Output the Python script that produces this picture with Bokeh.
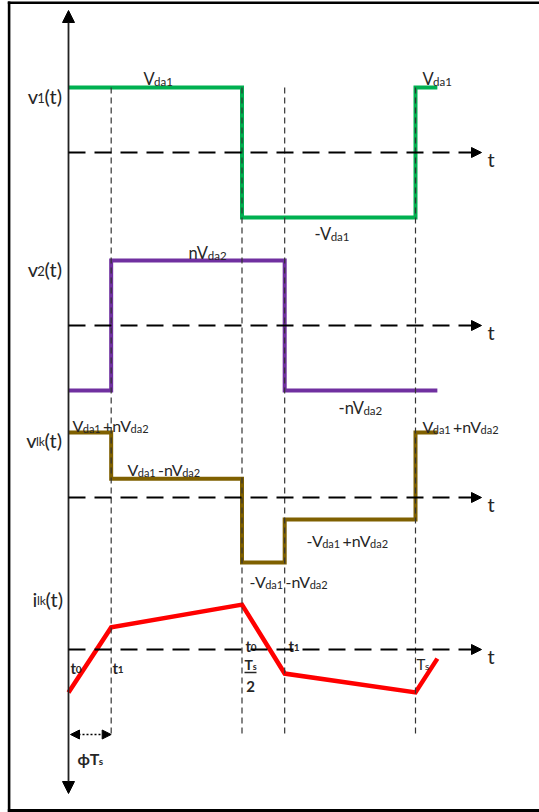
from bokeh.plotting import figure
from bokeh.models import Range1d, Arrow, NormalHead
from bokeh.core.properties import value
from bokeh.embed import file_html
from bokeh.resources import INLINE

# ---------------- data (time in units of Ts, levels in normalised amplitude) ----------------
phi = 0.123                      # phase shift (fraction of Ts)
t_end = 1.063                    # end of the drawn window (Ts)
v1_t = [0.0, 0.5, 1.0, t_end]
v1_v = [1.0, -1.0, 1.0, 1.0]
v2_t = [0.0, phi, 0.5 + phi, t_end]
v2_v = [-1.0, 1.0, -1.0, -1.0]
vlk_t = [0.0, phi, 0.5, 0.5 + phi, 1.0, t_end]
vlk_v = [1.0, 0.29, -1.0, -0.34, 1.0, 1.0]
ilk_t = [0.0, phi, 0.5, 0.5 + phi, 1.0, t_end]
ilk_v = [-0.66, 0.34, 0.69, -0.37, -0.66, -0.14]
switch_t = [phi, 0.5, 0.5 + phi, 1.0]

# label texts: (text, is_subscript)
lab_v1 = [("v", 0), ("1", 1), ("(t)", 0)]
lab_v2 = [("v", 0), ("2", 1), ("(t)", 0)]
lab_vlk = [("v", 0), ("lk", 1), ("(t)", 0)]
lab_ilk = [("i", 0), ("lk", 1), ("(t)", 0)]
lab_vda1 = [("V", 0), ("da1", 1)]
lab_mvda1 = [("-V", 0), ("da1", 1)]
lab_nvda2 = [("nV", 0), ("da2", 1)]
lab_mnvda2 = [("-nV", 0), ("da2", 1)]
lab_pp = [("V", 0), ("da1", 1), (" +nV", 0), ("da2", 1)]
lab_pm = [("V", 0), ("da1", 1), (" -nV", 0), ("da2", 1)]
lab_mp = [("-V", 0), ("da1", 1), (" +nV", 0), ("da2", 1)]
lab_mm = [("-V", 0), ("da1", 1), (" -nV", 0), ("da2", 1)]
lab_t0 = [("t", 0), ("0", 1)]
lab_t1 = [("t", 0), ("1", 1)]
lab_Ts = [("T", 0), ("s", 1)]
lab_phiTs = [("ϕT", 0), ("s", 1)]
axis_t = "t"
half_den = "2"

# ---------------- layout (screen pixels) ----------------
FX, FY, FW, FH = 0, 0, 539, 812       # figure box on the page (template has no body margin)
X0, SX = 68.0, 347.0                  # t=0 position and px per Ts
PY = 65.0                             # px per amplitude unit
BASE = {"v1": 152, "v2": 325, "vlk": 497, "ilk": 649}
FONT = "Lato"
TXT = "#262626"


def tx(X):
    return (X - X0) / SX


def ty(Y):
    return -Y / PY


p = figure(width=FW, height=FH, output_backend="svg", toolbar_location=None,
           x_axis_type=None, y_axis_type=None, min_border=0,
           x_range=Range1d(tx(FX), tx(FX + FW)), y_range=Range1d(ty(FY + FH), ty(FY)))
p.outline_line_color = None
p.background_fill_color = "white"
p.border_fill_color = "white"

# frame (left, top, bottom)
p.segment(x0=[tx(8.6), tx(7.3), tx(7.3)], y0=[ty(1), ty(2.3), ty(810)],
          x1=[tx(8.6), tx(545), tx(545)], y1=[ty(811.5), ty(2.3), ty(810)],
          line_color="black", line_width=[2.6, 2.6, 3])

# waveforms
b = {k: ty(v) for k, v in BASE.items()}
p.step(x=v1_t, y=[b["v1"] + v for v in v1_v], mode="after",
       line_color="#00B050", line_width=4, line_join="miter")
p.step(x=v2_t, y=[b["v2"] + v for v in v2_v], mode="after",
       line_color="#7030A0", line_width=4, line_join="miter")
p.step(x=vlk_t, y=[b["vlk"] + v for v in vlk_v], mode="after",
       line_color="#7F6000", line_width=4, line_join="miter")
p.line(x=ilk_t, y=[b["ilk"] + v for v in ilk_v],
       line_color="#FF0000", line_width=4.5, line_join="miter")

# switching instants (vertical dashed)
p.segment(x0=switch_t, x1=switch_t, y0=[ty(87)] * len(switch_t), y1=[ty(735)] * len(switch_t),
          line_color="#333333", line_width=1.2, line_dash="6 4")

# vertical axis with arrows both ends
p.add_layout(Arrow(x_start=0, y_start=ty(793), x_end=0, y_end=ty(10),
                   start=NormalHead(size=12, fill_color="black", line_color="black"),
                   end=NormalHead(size=12, fill_color="black", line_color="black"),
                   line_color="#222222", line_width=1.8))

# time axes
for k in ["v1", "v2", "vlk", "ilk"]:
    p.add_layout(Arrow(x_start=0, y_start=b[k], x_end=tx(481), y_end=b[k],
                       end=NormalHead(size=10, fill_color="black", line_color="black"),
                       line_color="black", line_width=2.2, line_dash="17 9"))
    p.text(x=[tx(487)], y=[ty(BASE[k] + 6)], text=[axis_t], text_font=value(FONT),
           text_font_size="20px", text_baseline="alphabetic", text_color=TXT)

# phi*Ts arrow
p.add_layout(Arrow(x_start=tx(70), y_start=ty(734), x_end=phi, y_end=ty(734),
                   start=NormalHead(size=9, fill_color="black", line_color="black"),
                   end=NormalHead(size=9, fill_color="black", line_color="black"),
                   line_color="black", line_width=1.5, line_dash="2 2"))

# ---------------- rich text helper ----------------
WID = {'V': 0.64, 'v': 0.48, 'd': 0.55, 'a': 0.47, '1': 0.55, '2': 0.55, '0': 0.55,
       ' ': 0.19, '+': 0.55, 'n': 0.53, '-': 0.34, '(': 0.28, ')': 0.28,
       't': 0.34, 'l': 0.225, 'k': 0.49, 'i': 0.225, 'T': 0.57, 's': 0.40, 'ϕ': 0.70}


def twidth(s, size, bold):
    return sum(WID.get(c, 0.52) for c in s) * size * (1.04 if bold else 1.0)


def rich(parts, X, Yb, size=16, sub=11, bold=False, align="left", drop=3):
    ws = [twidth(s, sub if isub else size, bold) for s, isub in parts]
    tot = sum(ws)
    x = X - tot if align == "right" else (X - tot / 2 if align == "center" else X)
    for (s, isub), w in zip(parts, ws):
        fs = sub if isub else size
        lead = len(s) - len(s.lstrip(" "))
        xs = x + twidth(" " * lead, fs, bold)
        p.text(x=[tx(xs)], y=[ty(Yb + (drop if isub else 0))], text=[s.lstrip(" ")],
               text_font=value(FONT), text_font_size=f"{fs}px",
               text_font_style="bold" if bold else "normal",
               text_baseline="alphabetic", text_align="left", text_color=TXT)
        x += w


# signal names
rich(lab_v1, 62, 95, size=20, sub=13, align="right", drop=2)
rich(lab_v2, 62, 268, size=20, sub=13, align="right", drop=2)
rich(lab_vlk, 62, 439, size=20, sub=12, align="right", drop=2)
rich(lab_ilk, 63, 598, size=20, sub=12, align="right", drop=2)

# level labels
rich(lab_vda1, 143, 78, size=16.5, sub=11.5)
rich(lab_vda1, 422, 78, size=16.5, sub=11.5)
rich(lab_mvda1, 314, 233, size=16.5, sub=11.5)
rich(lab_nvda2, 188, 252, size=16.5, sub=11.5)
rich(lab_mnvda2, 338, 407, size=16.5, sub=11.5)
rich(lab_pp, 72, 425)
rich(lab_pp, 422, 426)
rich(lab_pm, 127, 469)
rich(lab_mp, 306, 540)
rich(lab_mm, 249, 581)

# time labels
rich(lab_t0, 70, 667, size=15, sub=10, bold=True, drop=2)
rich(lab_t1, 112, 667, size=15, sub=10, bold=True, drop=2)
rich(lab_t0, 245, 645, size=15, sub=10, bold=True, drop=2)
rich(lab_t1, 288, 645, size=15, sub=10, bold=True, drop=2)
rich(lab_Ts, 250, 664, size=14, sub=9, bold=True, align="center", drop=2)
p.segment(x0=[tx(244)], x1=[tx(256)], y0=[ty(672)], y1=[ty(672)], line_color=TXT, line_width=1.5)
p.text(x=[tx(250)], y=[ty(686)], text=[half_den], text_font=value(FONT), text_font_size="15px",
       text_font_style="bold", text_align="center", text_baseline="alphabetic", text_color=TXT)
rich(lab_Ts, 416, 663, size=15, sub=10, drop=2)
rich(lab_phiTs, 77, 758, size=16, sub=10, bold=True, drop=2)

open("out.html", "w").write(file_html(p, INLINE))
